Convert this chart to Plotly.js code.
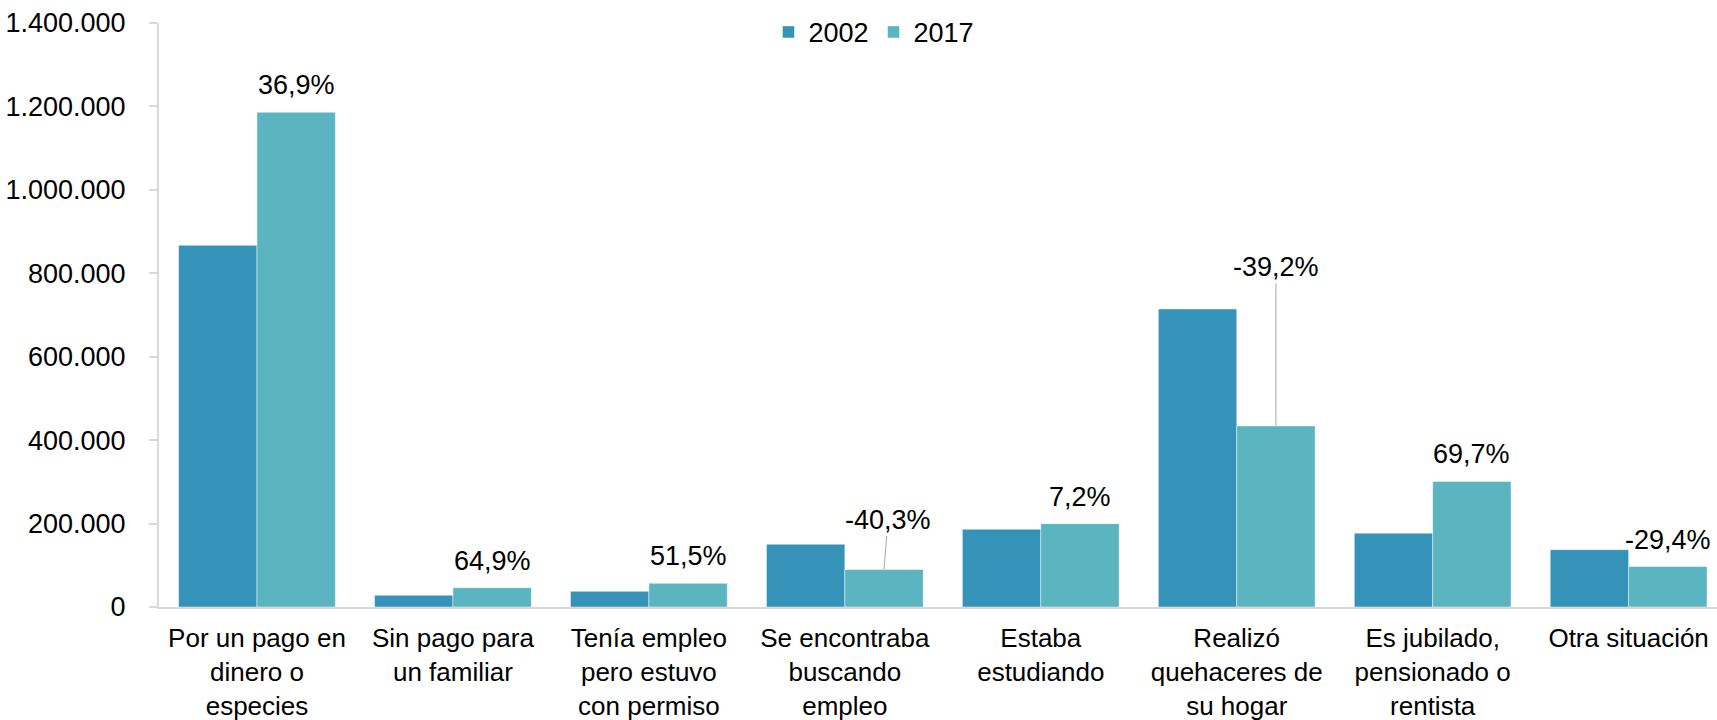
<!DOCTYPE html>
<html>
<head>
<meta charset="utf-8">
<script src="https://cdn.plot.ly/plotly-3.0.1.min.js"></script>
<style>
  html, body { margin: 0; padding: 0; background: #ffffff; overflow: hidden; }
  #chart { width: 1717px; height: 720px; }
</style>
</head>
<body>
<div id="chart"></div>
<script>
// ---- data ----
const categories = [
  'Por un pago en<br>dinero o<br>especies',
  'Sin pago para<br>un familiar',
  'Tenía empleo<br>pero estuvo<br>con permiso',
  'Se encontraba<br>buscando<br>empleo',
  'Estaba<br>estudiando',
  'Realizó<br>quehaceres de<br>su hogar',
  'Es jubilado,<br>pensionado o<br>rentista',
  'Otra situación'
];
const values2002 = [867000, 28000, 37500, 150400, 186400, 714400, 177000, 137500];
const values2017 = [1186000, 46200, 56800, 89800, 199800, 434000, 301000, 97000];
const changeLabels = ['36,9%', '64,9%', '51,5%', '-40,3%', '7,2%', '-39,2%', '69,7%', '-29,4%'];
const seriesNames = ['2002', '2017'];
const yTicks = [0, 200000, 400000, 600000, 800000, 1000000, 1200000, 1400000];

// ---- styling ----
const FONT = 'Liberation Sans, Arial, Helvetica, sans-serif';
const C2002 = '#3593b9';
const C2017 = '#5ab5c0';
const AXIS = '#d9d9d9';

const traces = [
  {
    type: 'bar', name: seriesNames[0], x: categories, y: values2002,
    marker: { color: C2002, line: { color: 'rgba(255,255,255,0.45)', width: 1 } },
    hoverinfo: 'skip'
  },
  {
    type: 'bar', name: seriesNames[1], x: categories, y: values2017,
    marker: { color: C2017, line: { color: 'rgba(255,255,255,0.45)', width: 1 } },
    hoverinfo: 'skip'
  }
];

// leader-line labels (layout offsets only)
const leader = { 3: { ax: 4, ay: -50 }, 5: { ax: 0, ay: -159 } };

const annotations = changeLabels.map((t, i) => {
  const base = {
    xref: 'x', yref: 'y', x: i + 0.2, y: values2017[i], text: t,
    font: { family: FONT, size: 27, color: '#000000' }
  };
  if (leader[i]) {
    return Object.assign(base, {
      showarrow: true, arrowhead: 0, arrowwidth: 1, arrowcolor: '#a6a6a6',
      ax: leader[i].ax, ay: leader[i].ay, standoff: 0, startstandoff: 0
    });
  }
  return Object.assign(base, { showarrow: false, yanchor: 'bottom', yshift: 10 });
});

const layout = {
  width: 1717, height: 720,
  paper_bgcolor: '#ffffff', plot_bgcolor: '#ffffff',
  separators: ',.',
  margin: { l: 158.6, r: 0, t: 23.3, b: 113.3, pad: 0, autoexpand: false },
  barmode: 'group', bargap: 0.2, bargroupgap: 0,
  font: { family: FONT, size: 27, color: '#000000' },
  showlegend: true,
  legend: {
    orientation: 'h', xref: 'container', yref: 'container',
    x: 0.509, xanchor: 'center', y: 0.955, yanchor: 'middle',
    font: { family: FONT, size: 27, color: '#000000' },
    bgcolor: 'rgba(0,0,0,0)', itemwidth: 30, traceorder: 'normal'
  },
  xaxis: {
    type: 'category', range: [-0.5, 7.451],
    showline: true, linecolor: AXIS, linewidth: 2,
    ticks: '', showgrid: false, zeroline: false,
    tickfont: { family: FONT, size: 26, color: '#000000' },
    ticklabelstandoff: 7, fixedrange: true, automargin: false
  },
  yaxis: {
    range: [0, 1400000], tickvals: yTicks, tickformat: ',d',
    showline: true, linecolor: AXIS, linewidth: 2,
    ticks: 'outside', ticklen: 8, tickwidth: 2, tickcolor: AXIS,
    showgrid: false, zeroline: false,
    tickfont: { family: FONT, size: 27, color: '#000000' },
    ticklabelstandoff: 18, fixedrange: true, automargin: false
  },
  annotations: annotations
};

Plotly.newPlot('chart', traces, layout, { displayModeBar: false, staticPlot: true });
</script>
</body>
</html>
